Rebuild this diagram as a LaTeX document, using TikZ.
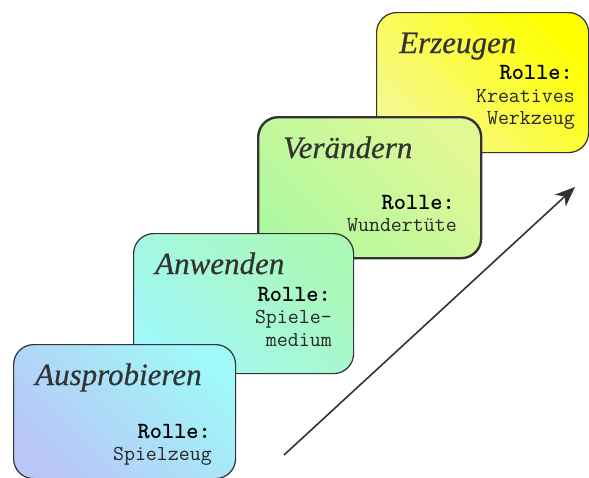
\documentclass[tikz,border=0pt]{standalone}
\usepackage{fontspec}
\setmainfont{Liberation Serif}
\newfontfamily\ttlfont{Liberation Serif}[FakeBold=0.6]
\usetikzlibrary{arrows.meta}
\definecolor{edge}{HTML}{333333}
\definecolor{lav}{HTML}{B8C6F8}
\definecolor{cyn}{HTML}{A0F8F8}
\definecolor{grn}{HTML}{B0F8A0}
\definecolor{ylw}{HTML}{F6F890}
\definecolor{yel}{HTML}{FFFF00}
\tikzset{
  stage/.style={draw=edge, line width=1.2pt, rounded corners=20pt, anchor=north west, inner sep=0pt},
  ttl/.style={font=\fontsize{31}{32}\selectfont\ttlfont\itshape, text=edge, inner sep=0pt, anchor=base west},
  rl/.style={font=\fontsize{23.2}{23}\selectfont\ttfamily\bfseries, text=black, inner sep=0pt, anchor=base east},
  rtxt/.style={font=\fontsize{21.3}{21}\selectfont\ttfamily, text=black!85, inner sep=0pt, anchor=base east},
}
\begin{document}
\begin{tikzpicture}[x=1pt,y=-1pt]
\useasboundingbox (0,0) rectangle (589,477);
% boxes, back to front
\node[stage, top color=yel, middle color=ylw, bottom color=ylw, shading angle=-45, minimum width=212pt, minimum height=140pt] (b4) at (376,12) {};
\node[stage, line width=2.4pt, top color=ylw!70!grn, middle color=grn, bottom color=grn, shading angle=-45, minimum width=223pt, minimum height=141pt] (b3) at (257,116) {};
\node[stage, top color=grn!75!cyn, middle color=cyn, bottom color=cyn, shading angle=-45, minimum width=220pt, minimum height=140pt] (b2) at (133,233) {};
\node[stage, top color=cyn, bottom color=lav, shading angle=-45, minimum width=222pt, minimum height=134pt] (b1) at (13,344) {};
% texts
\node[ttl] (t4) at (399,53) {Erzeugen};
\node[rl] (r4) at (573,79) {Rolle:};
\node[rtxt] (k4a) at (575,102) {Kreatives};
\node[rtxt] (k4b) at (575,124) {Werkzeug};
\node[ttl] (t3) at (283,158) {Verändern};
\node[rl] (r3) at (455,209) {Rolle:};
\node[rtxt] (k3) at (457,231) {Wundertüte};
\node[ttl] (t2) at (155,274) {Anwenden};
\node[rl] (r2) at (331,301) {Rolle:};
\node[rtxt] (k2a) at (332,323) {Spiele-};
\node[rtxt] (k2b) at (332,346) {medium};
\node[ttl] (t1) at (35,385) {Ausprobieren};
\node[rl] (r1) at (211,438) {Rolle:};
\node[rtxt] (k1) at (212,460) {Spielzeug};
% arrow
\coordinate (as) at (284,455);
\coordinate (ae) at (575,187);
\draw[edge, line width=1.6pt, -{Stealth[length=20pt,width=16pt,inset=6pt]}] (as) -- (ae);
\end{tikzpicture}
\end{document}
